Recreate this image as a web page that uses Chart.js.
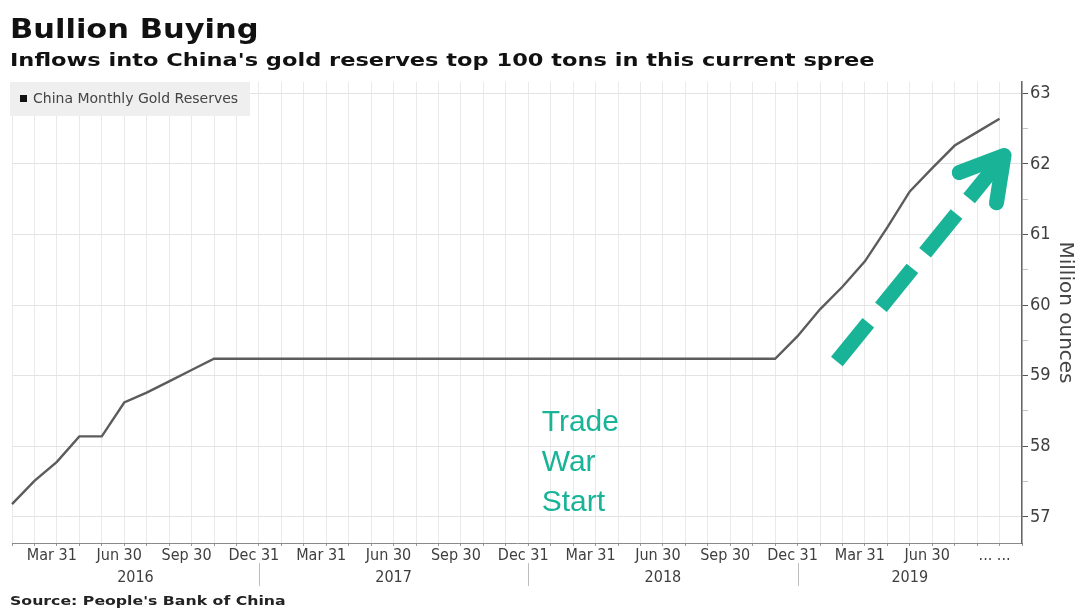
<!DOCTYPE html>
<html>
<head>
<meta charset="utf-8">
<title>Bullion Buying</title>
<script src="https://cdn.jsdelivr.net/npm/chart.js@4.4.1/dist/chart.umd.min.js"></script>
<style>
    html, body { margin: 0; padding: 0; background: #fff; }
    #wrap { position: relative; width: 1081px; height: 608px; overflow: hidden; }
    #chart { position: absolute; left: 0; top: 0; }
    .head { position: absolute; left: 10px; font-family: 'DejaVu Sans', sans-serif; font-weight: bold; color: #111; line-height: 1; white-space: nowrap; transform-origin: 0 0; }
    #title { top: 15px; font-size: 27px; transform: scaleX(1.13); }
    #subtitle { top: 51px; font-size: 18px; transform: scaleX(1.25); }
    #source { top: 594px; font-size: 13px; transform: scaleX(1.21); color: #222; }
    #legend { position: absolute; left: 10px; top: 82px; width: 240px; height: 34px; background: #efefef; font: 14px 'DejaVu Sans', sans-serif; color: #444; }
    #legend i { position: absolute; left: 10px; top: 13px; width: 7px; height: 7px; background: #111; }
    #legend span { position: absolute; left: 23px; top: 9px; line-height: 1; white-space: nowrap; }
</style>
</head>
<body>
<div id="wrap">
    <canvas id="chart" width="1081" height="608"></canvas>
    <div class="head" id="title">Bullion Buying</div>
    <div class="head" id="subtitle">Inflows into China's gold reserves top 100 tons in this current spree</div>
    <div id="legend"><i></i><span>China Monthly Gold Reserves</span></div>
    <div class="head" id="source">Source: People's Bank of China</div>
</div>
<script>
// --- Data: PBoC monthly gold reserves, million ounces (Jan 2016 - Sep 2019) ---
const years = ['2016', '2017', '2018', '2019'];
const monthNames = ['Jan', 'Feb', 'Mar', 'Apr', 'May', 'Jun', 'Jul', 'Aug', 'Sep', 'Oct', 'Nov', 'Dec'];

const reserves2016 = [57.18, 57.51, 57.78, 58.14, 58.14, 58.62, 58.76, 58.92, 59.08, 59.24, 59.24, 59.24];
const reserves2017 = [59.24, 59.24, 59.24, 59.24, 59.24, 59.24, 59.24, 59.24, 59.24, 59.24, 59.24, 59.24];
const reserves2018 = [59.24, 59.24, 59.24, 59.24, 59.24, 59.24, 59.24, 59.24, 59.24, 59.24, 59.24, 59.56];
const reserves2019 = [59.94, 60.26, 60.62, 61.10, 61.61, 61.94, 62.26, 62.45, 62.64];

// quarter-end tick labels, keyed by month index within the year
const quarterLabels = { 2: 'Mar 31', 5: 'Jun 30', 8: 'Sep 30', 11: 'Dec 31' };
const lastTickLabel = '... ...';
const yTicks = [57, 58, 59, 60, 61, 62, 63];

// axis runs one month past the last print (Oct 2019)
const months = [];
years.forEach(yr => monthNames.forEach(m => months.push(m + ' ' + yr)));
months.length = 46;
const reserves = [...reserves2016, ...reserves2017, ...reserves2018, ...reserves2019];

const TEAL = '#19b497';
const TICK_FONT = "'DejaVu Sans Condensed', 'DejaVu Sans', sans-serif";
const TICK_COLOR = '#3f3f3f';

const isWhole = v => Math.abs(v - Math.round(v)) < 1e-6;

function tickLabel(index) {
    if (index === reserves.length - 1) return lastTickLabel;
    if (index >= reserves.length) return '';
    return quarterLabels[index % 12] || '';
}

// year row under the quarter labels, with separators at each Dec 31
const yearRow = {
    id: 'yearRow',
    afterDraw(chart) {
        const { ctx, chartArea, scales: { x } } = chart;
        const rowY = chartArea.bottom + 35;
        ctx.save();
        ctx.font = '16px ' + TICK_FONT;
        ctx.fillStyle = TICK_COLOR;
        ctx.textAlign = 'center';
        ctx.textBaseline = 'middle';
        ctx.strokeStyle = '#bdbdbd';
        ctx.lineWidth = 1;
        years.forEach((yr, k) => {
            const from = k === 0 ? chartArea.left : x.getPixelForValue(k * 12 - 1);
            const to = k === years.length - 1 ? chartArea.right : x.getPixelForValue(k * 12 + 11);
            ctx.fillText(yr, (from + to) / 2, rowY);
            if (k < years.length - 1) {
                ctx.beginPath();
                ctx.moveTo(Math.round(to) + 0.5, chartArea.bottom + 20);
                ctx.lineTo(Math.round(to) + 0.5, chartArea.bottom + 43);
                ctx.stroke();
            }
        });
        ctx.restore();
    }
};

// "Trade War Start" note and the dashed arrow up the 2019 rise
const notes = {
    id: 'notes',
    afterDatasetsDraw(chart) {
        const { ctx, scales: { x, y } } = chart;
        ctx.save();

        ctx.fillStyle = TEAL;
        ctx.font = '30px "Liberation Sans", Arial, sans-serif';
        ctx.textAlign = 'left';
        ctx.textBaseline = 'alphabetic';
        const tx = x.getPixelForValue(23.6);
        const ty = y.getPixelForValue(58.22);
        ['Trade', 'War', 'Start'].forEach((line, i) => ctx.fillText(line, tx, ty + i * 40));

        const x0 = x.getPixelForValue(36.75), y0 = y.getPixelForValue(59.2);
        const x1 = x.getPixelForValue(44.2), y1 = y.getPixelForValue(62.12);
        const len = Math.hypot(x1 - x0, y1 - y0);
        const ux = (x1 - x0) / len, uy = (y1 - y0) / len;

        ctx.strokeStyle = TEAL;
        ctx.lineWidth = 15;
        ctx.lineCap = 'butt';
        ctx.lineJoin = 'round';
        const dashes = [[0, 50], [70, 120], [140, 190], [210, len]];
        dashes.forEach(([a, b]) => {
            ctx.beginPath();
            ctx.moveTo(x0 + ux * a, y0 + uy * a);
            ctx.lineTo(x0 + ux * b, y0 + uy * b);
            ctx.stroke();
        });

        // arrow head
        const back = Math.atan2(-uy, -ux);
        const wing = 48, spread = Math.PI / 6;
        ctx.lineCap = 'round';
        ctx.beginPath();
        ctx.moveTo(x1 + wing * Math.cos(back - spread), y1 + wing * Math.sin(back - spread));
        ctx.lineTo(x1, y1);
        ctx.lineTo(x1 + wing * Math.cos(back + spread), y1 + wing * Math.sin(back + spread));
        ctx.stroke();

        ctx.restore();
    }
};

new Chart(document.getElementById('chart'), {
    type: 'line',
    data: {
        labels: months,
        datasets: [{
            label: 'China Monthly Gold Reserves',
            data: reserves,
            borderColor: '#5c5c5c',
            borderWidth: 2.4,
            pointRadius: 0,
            tension: 0,
            fill: false
        }]
    },
    options: {
        responsive: false,
        animation: false,
        layout: { padding: { left: 12, top: 82, right: 0, bottom: 0 } },
        plugins: {
            legend: { display: false },
            tooltip: { enabled: false }
        },
        scales: {
            x: {
                type: 'category',
                offset: false,
                afterFit: scale => { scale.height = 65; },
                border: { color: '#8a8a8a', width: 1 },
                grid: {
                    color: '#e9e9e9',
                    tickColor: '#9a9a9a',
                    tickLength: 3
                },
                ticks: {
                    autoSkip: false,
                    maxRotation: 0,
                    padding: 0,
                    labelOffset: -5,
                    color: TICK_COLOR,
                    font: { family: TICK_FONT, size: 16 },
                    callback: (value, index) => tickLabel(index)
                }
            },
            y: {
                position: 'right',
                min: 56.63,
                max: 63.16,
                afterFit: scale => { scale.width = 59; },
                border: { color: '#666', width: 1.5 },
                grid: {
                    color: ctx => isWhole(ctx.tick.value) ? '#e3e3e3' : 'transparent',
                    tickColor: ctx => isWhole(ctx.tick.value) ? '#555' : '#c4c4c4',
                    tickLength: 6
                },
                ticks: {
                    stepSize: 0.5,
                    includeBounds: false,
                    padding: 2,
                    color: TICK_COLOR,
                    font: { family: TICK_FONT, size: 18 },
                    callback: value => yTicks.includes(value) ? String(value) : ''
                },
                title: {
                    display: true,
                    text: 'Million ounces',
                    color: '#444',
                    padding: { top: 4, bottom: 0 },
                    font: { family: "'DejaVu Sans', sans-serif", size: 20 }
                }
            }
        }
    },
    plugins: [yearRow, notes]
});
</script>
</body>
</html>
